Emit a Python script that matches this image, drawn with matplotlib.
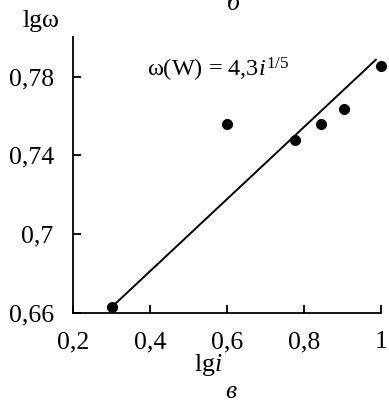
import matplotlib
matplotlib.use("Agg")
import matplotlib.pyplot as plt
from matplotlib.ticker import FuncFormatter

plt.rcParams["font.family"] = ["Liberation Serif", "DejaVu Serif"]
plt.rcParams["mathtext.fontset"] = "custom"
plt.rcParams["mathtext.rm"] = "Liberation Serif"
plt.rcParams["mathtext.it"] = "Liberation Serif:italic"

# measured points (lg i, lg omega)
lg_i = [0.30, 0.60, 0.778, 0.845, 0.903, 1.0]
lg_w = [0.663, 0.756, 0.748, 0.756, 0.7637, 0.7855]

# fitted line end points
fit_x = [0.30, 0.987]
fit_y = [0.663, 0.7885]

x_ticks = [0.2, 0.4, 0.6, 0.8, 1.0]
y_ticks = [0.66, 0.70, 0.74, 0.78]


def comma_fmt(v, pos):
    s = f"{v:.2f}".rstrip("0").rstrip(".")
    return s.replace(".", ",")


fig = plt.figure(figsize=(3.89, 4.03), dpi=100)
ax = fig.add_axes([0.188, 0.223, 0.791, 0.685])

ax.plot(fit_x, fit_y, color="black", linewidth=1.4)
ax.plot(lg_i, lg_w, "o", color="black", markersize=7, clip_on=False)

ax.set_xlim(0.2, 1.0)
ax.set_ylim(0.66, 0.8)
ax.set_xticks(x_ticks)
ax.set_yticks(y_ticks)
ax.xaxis.set_major_formatter(FuncFormatter(comma_fmt))
ax.yaxis.set_major_formatter(FuncFormatter(comma_fmt))
ax.tick_params(direction="in", length=6, width=1.3, labelsize=18.5)
ax.tick_params(axis="x", pad=13)
ax.tick_params(axis="y", pad=14)

for side in ["top", "right"]:
    ax.spines[side].set_visible(False)
for side in ["left", "bottom"]:
    ax.spines[side].set_linewidth(1.3)

ax.text(0.393, 0.78, "ω(W) = 4,3$\\mathit{i}^{1/5}$", fontsize=17.5, va="baseline")

fig.text(0.058, 0.933, "lgω", fontsize=18.5, ha="left", va="baseline")
fig.text(0.535, 0.08, "lg$\\mathit{i}$", fontsize=18.5, ha="center", va="baseline")
fig.text(0.592, 0.012, "в", fontsize=18.5, ha="center", va="baseline", style="italic")
fig.text(0.60, 0.975, "б", fontsize=18.5, ha="center", va="baseline", style="italic")

fig.savefig("out.png", dpi=100)
